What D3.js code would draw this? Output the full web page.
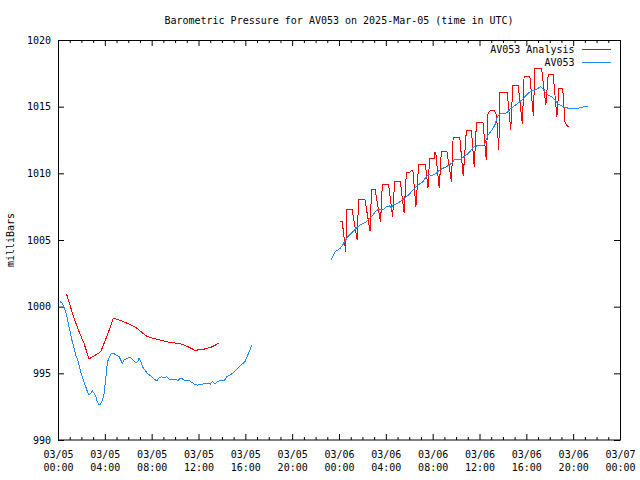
<!DOCTYPE html>
<html><head><meta charset="utf-8">
<script src="https://cdn.jsdelivr.net/npm/d3@7"></script>
<style>
body{margin:0;background:#fff}
text{font-family:"DejaVu Sans Mono","Liberation Mono",monospace;font-size:10px;fill:#000}
</style>
</head><body>
<svg id="chart" width="640" height="480"></svg>
<script>
// ---------- data ----------
const chartTitle = "Barometric Pressure for AV053 on 2025-Mar-05 (time in UTC)";
const yAxisTitle = "milliBars";
const seriesNames = ["AV053 Analysis", "AV053"];
const startDay = Date.UTC(2025, 2, 5); // 2025-03-05 00:00 UTC
const yTicks = [990, 995, 1000, 1005, 1010, 1015, 1020];
const xMajorHours = [0, 4, 8, 12, 16, 20, 24, 28, 32, 36, 40, 44, 48];

// AV053 Analysis (hours after 03/05 00:00 UTC), two segments
const analysisHoursA = [0.74,1.37,1.80,2.22,2.65,3.08,3.65,4.22,4.73,5.22,5.93,6.65,6.93,7.50,7.93,8.50,9.07,9.64,10.35,10.78,11.21,11.64,11.92,12.49,13.07,13.72];
const analysisPresA  = [1000.93,999.13,998.12,997.25,996.08,996.30,996.62,997.88,999.13,999.00,998.75,998.45,998.25,997.82,997.67,997.55,997.42,997.30,997.25,997.12,996.95,996.75,996.75,996.82,996.95,997.25];
const analysisHoursB = [24.10,24.27,24.58, 24.64,25.11,25.55, 25.67,26.21,26.65, 26.78,27.08,27.55, 27.70,28.24,28.58, 28.75,29.24,29.56,
  29.75,30.05,30.31,30.57, 30.80,31.38,31.60, 31.74,32.12,32.16,32.26,32.56, 32.74,33.22,33.60, 33.75,34.31,34.61, 34.88,35.31,35.55,
  35.74,36.30,36.58, 36.73,36.95,37.25,37.45,37.65, 37.73,38.36,38.67, 38.84,39.30,39.66, 39.81,40.30,40.60, 40.73,41.30,41.67,
  41.87,42.29,42.61, 42.78,43.10,43.15,43.29,43.44,43.58];
const analysisPresB  = [1006.40,1006.40,1004.10, 1007.30,1007.30,1005.00, 1008.05,1008.05,1005.68, 1008.80,1008.80,1006.35, 1009.13,1009.13,1006.75, 1009.37,1009.37,1007.03,
  1010.03,1010.10,1010.25,1007.50, 1010.68,1010.68,1008.90, 1011.13,1011.13,1011.58,1011.58,1008.88, 1011.62,1011.62,1009.37, 1012.72,1012.72,1009.80, 1013.23,1013.23,1010.50,
  1013.80,1013.80,1011.00, 1014.52,1014.75,1014.75,1014.40,1011.75, 1016.08,1016.08,1013.25, 1016.62,1016.62,1013.70, 1017.30,1017.30,1014.30, 1017.88,1017.88,1015.12,
  1017.43,1017.43,1014.23, 1016.38,1016.38,1015.88,1013.87,1013.63,1013.48];

// AV053 station observations, two segments
const stationHoursA = [0.17,0.37,0.51,0.66,0.80,0.94,1.09,1.22,1.37,1.51,1.65,1.80,1.94,2.08,2.22,2.37,2.51,2.65,2.80,2.93,3.08,3.23,3.36,3.45,3.65,3.79,3.94,
  4.08,4.17,4.28,4.51,4.73,4.94,5.22,5.50,5.65,5.93,6.16,6.36,6.65,6.79,6.93,7.08,7.21,7.42,7.64,7.93,8.21,8.44,8.64,8.84,9.07,9.30,9.50,
  10.07,10.21,10.50,10.78,11.21,11.64,11.92,12.35,12.77,13.01,13.20,13.41,13.63,14.20,14.43,14.78,15.06,15.34,15.63,15.97,16.15,16.34,16.54];
const stationPresA  = [1000.37,1000.25,1000.00,999.62,999.13,998.50,997.88,997.37,996.88,996.38,996.08,995.62,995.12,994.75,994.37,994.00,993.62,993.37,993.50,993.68,993.50,993.25,992.87,992.68,992.70,993.00,993.50,
  994.63,995.50,996.00,996.45,996.50,996.38,996.25,995.75,996.00,996.13,996.20,996.05,995.80,995.87,996.13,995.87,995.50,995.25,995.00,994.80,994.55,994.45,994.67,994.75,994.67,994.75,994.55,
  994.55,994.45,994.65,994.50,994.45,994.20,994.12,994.20,994.25,994.20,994.37,994.20,994.42,994.45,994.75,994.92,995.12,995.37,995.62,995.87,996.25,996.62,997.12];
const stationHoursB = [23.33,23.53,23.68,23.90,24.10,24.27,24.47,24.75,25.04,25.33,25.61,25.90,26.33,26.61,26.89,27.18,27.41,27.75,28.04,28.32,28.47,28.60,28.89,29.18,
  29.60,30.03,30.31,30.74,31.17,31.46,31.68,31.89,32.32,32.60,32.88,33.17,33.45,33.60,33.74,33.88,34.31,34.59,34.88,35.17,35.45,35.74,36.17,36.39,36.59,36.73,
  37.02,37.31,37.54,37.73,38.16,38.39,38.59,38.87,39.16,39.44,39.73,39.87,40.16,40.45,40.73,41.01,41.22,41.39,41.58,41.87,42.16,42.44,42.64,42.87,43.15,43.58,
  44.29,44.72,44.86,45.29];
const stationPresB  = [1003.50,1003.88,1004.12,1004.25,1004.38,1004.55,1004.87,1005.25,1005.50,1005.75,1006.00,1006.18,1006.37,1006.63,1006.88,1007.20,1007.30,1007.25,1007.50,1007.55,1007.38,1007.63,1007.70,1007.85,
  1008.13,1008.45,1008.75,1009.13,1009.37,1009.75,1009.93,1009.80,1010.00,1010.25,1010.38,1010.50,1010.63,1010.75,1010.87,1011.05,1011.00,1011.20,1011.38,1011.62,1011.95,1012.05,1012.10,1012.12,1012.55,1012.88,
  1013.20,1013.62,1014.25,1014.45,1014.50,1014.58,1014.80,1015.00,1015.18,1015.37,1015.58,1015.75,1016.00,1016.18,1016.25,1016.38,1016.50,1016.38,1016.12,1015.87,1015.75,1015.50,1015.25,1015.12,1015.00,1014.88,
  1014.88,1014.92,1015.00,1015.00];

// ---------- drawing ----------
const m = {left: 58, right: 620, top: 40, bottom: 440};
const colors = {analysis: "#ff0000", station: "#1e8cff"};
const svg = d3.select("#chart");
const toDate = h => new Date(startDay + h * 3600e3);

const x = d3.scaleUtc().domain([toDate(0), toDate(48)]).range([m.left, m.right]);
const y = d3.scaleLinear().domain([990, 1020]).range([m.bottom, m.top]);

const majorDates = xMajorHours.map(toDate);
const minorDates = d3.range(0, 49).filter(h => h % 4 !== 0).map(toDate);
const fmtDay = d3.utcFormat("%m/%d"), fmtTime = d3.utcFormat("%H:%M");

function styleAxis(g) {
  g.select(".domain").remove();
  g.attr("font-family", null).attr("font-size", null);
  g.selectAll(".tick line").attr("stroke", "#000");
}

const gB = svg.append("g").attr("transform", `translate(0,${m.bottom})`)
  .call(d3.axisBottom(x).tickValues(majorDates).tickSize(-6).tickFormat(""));
styleAxis(gB);
gB.selectAll(".tick text").each(function(d) {
  const t = d3.select(this).attr("dy", null).attr("y", null);
  t.append("tspan").attr("x", 0).attr("y", 17.5).text(fmtDay(d));
  t.append("tspan").attr("x", 0).attr("y", 31).text(fmtTime(d));
});
styleAxis(svg.append("g").attr("transform", `translate(0,${m.bottom})`)
  .call(d3.axisBottom(x).tickValues(minorDates).tickSize(-3).tickFormat("")));
styleAxis(svg.append("g").attr("transform", `translate(0,${m.top})`)
  .call(d3.axisTop(x).tickValues(majorDates).tickSize(-6).tickFormat("")));
styleAxis(svg.append("g").attr("transform", `translate(0,${m.top})`)
  .call(d3.axisTop(x).tickValues(minorDates).tickSize(-3).tickFormat("")));

const gL = svg.append("g").attr("transform", `translate(${m.left},0)`)
  .call(d3.axisLeft(y).tickValues(yTicks).tickSize(-6).tickPadding(7).tickFormat(d3.format("d")));
styleAxis(gL);
styleAxis(svg.append("g").attr("transform", `translate(${m.right},0)`)
  .call(d3.axisRight(y).tickValues(yTicks).tickSize(-6).tickFormat("")));

svg.append("rect").attr("x", m.left + 0.5).attr("y", m.top + 0.5)
  .attr("width", m.right - m.left).attr("height", m.bottom - m.top - 0.5)
  .attr("fill", "none").attr("stroke", "#000").attr("stroke-width", 1);

svg.append("text").attr("x", (m.left + m.right) / 2).attr("y", 23.5)
  .attr("text-anchor", "middle").text(chartTitle);
svg.append("text").attr("transform", `translate(14,${(m.top + m.bottom) / 2}) rotate(-90)`)
  .attr("text-anchor", "middle").text(yAxisTitle);

const line = d3.line().x(d => x(toDate(d.h))).y(d => y(d.p));
const zipSeries = (hs, ps) => hs.map((h, i) => ({h, p: ps[i]}));
const series = [
  {data: [zipSeries(analysisHoursA, analysisPresA), zipSeries(analysisHoursB, analysisPresB)], color: colors.analysis},
  {data: [zipSeries(stationHoursA, stationPresA), zipSeries(stationHoursB, stationPresB)], color: colors.station}
];
series.forEach(s => {
  s.data.forEach(seg => {
    svg.append("path").datum(seg).attr("d", line)
      .attr("fill", "none").attr("stroke", s.color).attr("stroke-width", 1)
      .attr("shape-rendering", "crispEdges");
  });
});

const legend = svg.append("g");
seriesNames.forEach((name, i) => {
  const cy = 49.5 + i * 13;
  legend.append("text").attr("x", 574.5).attr("y", cy + 3.7).attr("text-anchor", "end").text(name);
  legend.append("line").attr("x1", 582).attr("x2", 611).attr("y1", cy).attr("y2", cy)
    .attr("stroke", i === 0 ? colors.analysis : colors.station).attr("stroke-width", 1);
});
</script>
</body></html>
